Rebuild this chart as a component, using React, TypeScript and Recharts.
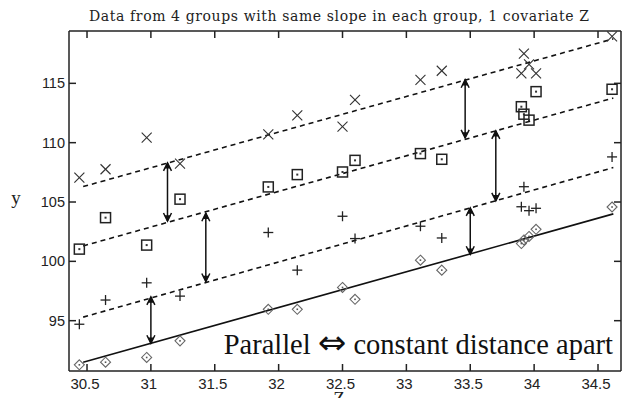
import React from "react";
import {
  ComposedChart,
  XAxis,
  YAxis,
  Scatter,
  Line,
  ReferenceLine,
} from "recharts";

// ---- data ----
const zValues = [30.44, 30.645, 30.967, 31.228, 31.919, 32.146, 32.5, 32.598, 33.11, 33.277, 33.9, 33.92, 33.96, 34.015, 34.61];
const crossY = [107.06, 107.76, 110.42, 108.24, 110.7, 112.3, 111.35, 113.6, 115.3, 116.06, 115.84, 117.5, 116.6, 115.84, 118.95];
const squareY = [101.03, 103.68, 101.37, 105.24, 106.27, 107.31, 107.53, 108.51, 109.08, 108.6, 113.03, 112.4, 111.9, 114.3, 114.5];
const plusY = [94.7, 96.74, 98.19, 97.07, 102.43, 99.26, 103.8, 101.92, 102.96, 101.97, 104.6, 106.29, 104.27, 104.47, 108.8];
const diamondY = [91.28, 91.5, 91.9, 93.3, 95.96, 95.96, 97.8, 96.8, 100.1, 99.26, 101.5, 101.8, 102.1, 102.7, 104.58];

// fitted parallel lines: [z start, z end] and [y start, y end]
const fitZ = [30.47, 34.62];
const fitCrossY = [106.3, 118.75];
const fitSquareY = [101.3, 113.76];
const fitPlusY = [95.3, 107.9];
const fitDiamondY = [91.5, 104.0];

// distance arrows
const arrowZ = [31.0, 31.13, 31.43, 33.46, 33.5, 33.7];
const arrowTop = [97.0, 108.3, 104.05, 115.3, 104.5, 111.0];
const arrowBottom = [93.1, 103.4, 98.3, 110.4, 100.6, 105.1];

const xTicks = [30.5, 31, 31.5, 32, 32.5, 33, 33.5, 34, 34.5];
const yTicks = [95, 100, 105, 110, 115];
const xDomain = [30.359, 34.68];
const yDomain = [90.76, 119.41];

const titleText = "Data from 4 groups with same slope in each group, 1 covariate Z";
const noteLeft = "Parallel ";
const noteArrow = "\u21D4";
const noteRight = " constant distance apart";
const yLabel = "y";
const xLabel = "Z";

const toPoints = (ys: number[]) => zValues.map((z, i) => ({ z, y: ys[i] }));
const toFit = (ys: number[]) => fitZ.map((z, i) => ({ z, y: ys[i] }));

const AX = "#222";
const TICK_FONT = "'Liberation Sans', Arial, sans-serif";

const CrossShape = (p: any) => {
  const { cx, cy } = p;
  const s = 5;
  return (
    <g stroke="#333" strokeWidth={1.1} fill="none">
      <line x1={cx - s} y1={cy - s} x2={cx + s} y2={cy + s} />
      <line x1={cx - s} y1={cy + s} x2={cx + s} y2={cy - s} />
    </g>
  );
};
const SquareShape = (p: any) => {
  const { cx, cy } = p;
  const s = 5;
  return (
    <g>
      <rect x={cx - s} y={cy - s} width={2 * s} height={2 * s} fill="white" fillOpacity={0} stroke="#222" strokeWidth={1.5} />
      <rect x={cx - 1} y={cy - 1} width={2} height={2} fill="#333" />
    </g>
  );
};
const PlusShape = (p: any) => {
  const { cx, cy } = p;
  const s = 5;
  return (
    <g stroke="#222" strokeWidth={1.3}>
      <line x1={cx - s} y1={cy} x2={cx + s} y2={cy} />
      <line x1={cx} y1={cy - s} x2={cx} y2={cy + s} />
    </g>
  );
};
const DiamondShape = (p: any) => {
  const { cx, cy } = p;
  const s = 5;
  return (
    <g>
      <path d={`M${cx},${cy - s} L${cx + s},${cy} L${cx},${cy + s} L${cx - s},${cy} Z`} fill="none" stroke="#666" strokeWidth={1.1} />
      <rect x={cx - 0.8} y={cy - 0.8} width={1.6} height={1.6} fill="#555" />
    </g>
  );
};

const ArrowShape = (p: any) => {
  const { x1, y1, x2, y2 } = p;
  if ([x1, y1, x2, y2].some((v) => typeof v !== "number" || isNaN(v))) return <g />;
  const top = Math.min(y1, y2);
  const bot = Math.max(y1, y2);
  const x = x1;
  return (
    <g stroke="#111" strokeWidth={1.5} fill="none">
      <line x1={x} y1={top} x2={x} y2={bot} />
      <path d={`M${x - 4},${top + 8} L${x},${top} L${x + 4},${top + 8}`} />
      <path d={`M${x - 2},${top + 5} L${x},${top + 1} L${x + 2},${top + 5} Z`} fill="#111" />
      <path d={`M${x - 4},${bot - 8} L${x},${bot} L${x + 4},${bot - 8}`} />
      <path d={`M${x - 2},${bot - 5} L${x},${bot - 1} L${x + 2},${bot - 5} Z`} fill="#111" />
    </g>
  );
};

const BottomTick = (p: any) => {
  const { x, y, payload } = p;
  return (
    <g>
      <line x1={x} y1={y} x2={x} y2={y - 7} stroke={AX} strokeWidth={1.5} />
      <text x={x - 2} y={y + 18} textAnchor="middle" fontFamily={TICK_FONT} fontSize={15} fill="#222">
        {payload.value}
      </text>
    </g>
  );
};
const TopTick = (p: any) => {
  const { x, y } = p;
  return <line x1={x} y1={y} x2={x} y2={y + 7} stroke={AX} strokeWidth={1.5} />;
};
const LeftTick = (p: any) => {
  const { x, y, payload } = p;
  return (
    <g>
      <line x1={x} y1={y} x2={x + 7} y2={y} stroke={AX} strokeWidth={1.5} />
      <text x={x - 4} y={y + 5} textAnchor="end" fontFamily={TICK_FONT} fontSize={14.5} fill="#222">
        {payload.value}
      </text>
    </g>
  );
};
const RightTick = (p: any) => {
  const { x, y } = p;
  return <line x1={x} y1={y} x2={x - 7} y2={y} stroke={AX} strokeWidth={1.5} />;
};

export default function App() {
  const W = 622;
  const H = 398;
  return (
    <div style={{ position: "absolute", left: 0, top: 0, width: W, height: H, background: "white" }}>
      <ComposedChart width={W} height={H} margin={{ top: 30, right: 0, bottom: 0, left: 9 }}>
        <XAxis
          xAxisId={0}
          type="number"
          dataKey="z"
          domain={xDomain}
          allowDataOverflow
          ticks={xTicks}
          orientation="bottom"
          height={27}
          tickSize={0}
          tickMargin={0}
          tickLine={false}
          tick={<BottomTick />}
          axisLine={{ stroke: AX, strokeWidth: 1.5 }}
          interval={0}
        />
        <XAxis
          xAxisId="top"
          type="number"
          dataKey="z"
          domain={xDomain}
          allowDataOverflow
          ticks={xTicks}
          orientation="top"
          height={1}
          tickSize={0}
          tickMargin={0}
          tickLine={false}
          tick={<TopTick />}
          axisLine={{ stroke: AX, strokeWidth: 1.5 }}
          interval={0}
        />
        <YAxis
          yAxisId={0}
          type="number"
          dataKey="y"
          domain={yDomain}
          allowDataOverflow
          ticks={yTicks}
          orientation="left"
          width={60}
          tickSize={0}
          tickMargin={0}
          tickLine={false}
          tick={<LeftTick />}
          axisLine={{ stroke: AX, strokeWidth: 1.5 }}
          interval={0}
        />
        <YAxis
          yAxisId="right"
          type="number"
          dataKey="y"
          domain={yDomain}
          allowDataOverflow
          ticks={yTicks}
          orientation="right"
          width={1}
          tickSize={0}
          tickMargin={0}
          tickLine={false}
          tick={<RightTick />}
          axisLine={{ stroke: AX, strokeWidth: 1.5 }}
          interval={0}
        />

        <Line data={toFit(fitCrossY)} dataKey="y" type="linear" stroke="#111" strokeWidth={1.6} strokeDasharray="5 4" dot={false} activeDot={false} isAnimationActive={false} />
        <Line data={toFit(fitSquareY)} dataKey="y" type="linear" stroke="#111" strokeWidth={1.6} strokeDasharray="5 4" dot={false} activeDot={false} isAnimationActive={false} />
        <Line data={toFit(fitPlusY)} dataKey="y" type="linear" stroke="#111" strokeWidth={1.6} strokeDasharray="5 4" dot={false} activeDot={false} isAnimationActive={false} />
        <Line data={toFit(fitDiamondY)} dataKey="y" type="linear" stroke="#111" strokeWidth={1.6} dot={false} activeDot={false} isAnimationActive={false} />

        <Scatter data={toPoints(crossY)} shape={CrossShape} isAnimationActive={false} />
        <Scatter data={toPoints(squareY)} shape={SquareShape} isAnimationActive={false} />
        <Scatter data={toPoints(plusY)} shape={PlusShape} isAnimationActive={false} />
        <Scatter data={toPoints(diamondY)} shape={DiamondShape} isAnimationActive={false} />

        {arrowZ.map((z, i) => (
          <ReferenceLine
            key={i}
            segment={[
              { x: z, y: arrowTop[i] },
              { x: z, y: arrowBottom[i] },
            ]}
            shape={ArrowShape}
            stroke="#111"
            ifOverflow="visible"
          />
        ))}
      </ComposedChart>
      <svg width={W} height={H} style={{ position: "absolute", left: 0, top: 0, pointerEvents: "none" }}>
        <text x={339} y={21} textAnchor="middle" fontFamily="'DejaVu Serif', serif" fontSize={14} textLength={500} lengthAdjust="spacing" fill="#222">
          {titleText}
        </text>
        <text x={613} y={354} textAnchor="end" fontFamily="'Liberation Serif', 'DejaVu Serif', serif" fontSize={28.5} fill="#111">
          {noteLeft}
          <tspan fontFamily="'DejaVu Sans', sans-serif" fontSize={34}>{noteArrow}</tspan>
          {noteRight}
        </text>
        <text x={16} y={204} textAnchor="middle" fontFamily="'Liberation Serif', serif" fontSize={19} fill="#222">
          {yLabel}
        </text>
        <text x={339} y={405} textAnchor="middle" fontFamily="'Liberation Serif', serif" fontSize={19} fill="#222">
          {xLabel}
        </text>
      </svg>
    </div>
  );
}
